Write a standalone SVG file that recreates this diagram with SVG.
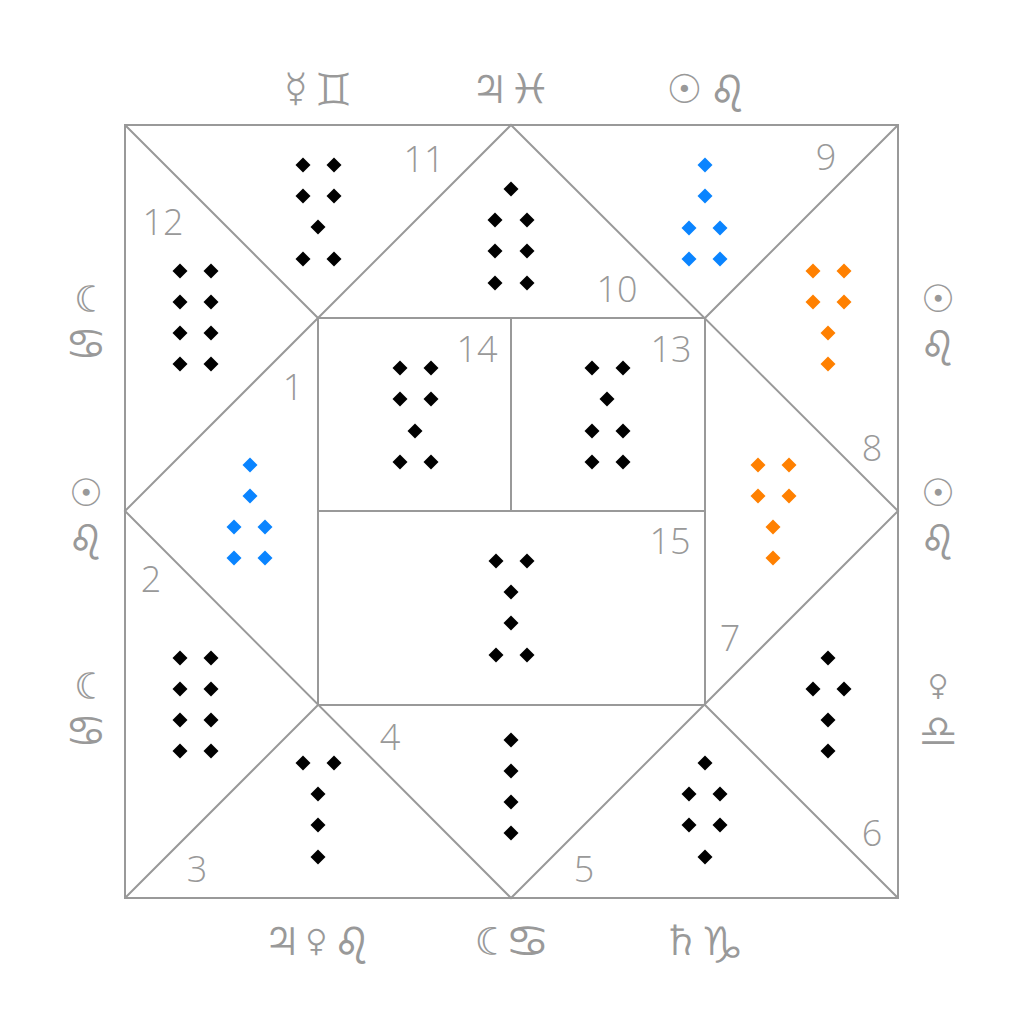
<svg xmlns="http://www.w3.org/2000/svg" width="1024" height="1024" viewBox="0 0 1024 1024">
<style>
.ln{stroke:#999;stroke-width:2;fill:none}
.num{font-family:"Open Sans","Noto Sans","DejaVu Sans",sans-serif;font-weight:300;font-size:36px;fill:#999;text-anchor:middle;dominant-baseline:central}
.sym{font-family:"Noto Sans Symbols","DejaVu Sans",sans-serif;font-size:40px;fill:#999;text-anchor:middle;dominant-baseline:central}
.side{font-size:38px}
.k{fill:#000}.b{fill:#0a84ff}.o{fill:#ff8000}
</style>
<defs>
<path id="d" d="M0,-7.5L7.5,0L0,7.5L-7.5,0Z"/>
</defs>
<rect width="1024" height="1024" fill="#fff"/>
<g id="connectors" class="ln">
<rect x="125" y="125" width="773" height="773"/>
<path d="M125,125L318,318M898,125L705,318M125,898L318,705M898,898L705,705"/>
<path d="M511,125L898,511L511,898L125,511Z"/>
<rect x="318" y="318" width="387" height="387"/>
<path d="M511,318V511M318,511H705"/>
</g>
<g id="house12" class="k"><text class="num" x="163" y="221">12</text>
<use href="#d" x="180" y="271"/><use href="#d" x="211" y="271"/><use href="#d" x="180" y="302"/><use href="#d" x="211" y="302"/><use href="#d" x="180" y="333"/><use href="#d" x="211" y="333"/><use href="#d" x="180" y="364"/><use href="#d" x="211" y="364"/></g>
<g id="house11" class="k"><text class="num" x="424" y="158">11</text>
<use href="#d" x="303" y="165"/><use href="#d" x="334" y="165"/><use href="#d" x="303" y="196"/><use href="#d" x="334" y="196"/><use href="#d" x="318" y="227"/><use href="#d" x="303" y="259"/><use href="#d" x="334" y="259"/></g>
<g id="house10" class="k"><text class="num" x="617" y="288">10</text>
<use href="#d" x="511" y="189"/><use href="#d" x="495" y="220"/><use href="#d" x="527" y="220"/><use href="#d" x="495" y="251"/><use href="#d" x="527" y="251"/><use href="#d" x="495" y="283"/><use href="#d" x="527" y="283"/></g>
<g id="house9" class="b"><text class="num" x="826" y="156">9</text>
<use href="#d" x="705" y="165"/><use href="#d" x="705" y="196"/><use href="#d" x="689" y="228"/><use href="#d" x="720" y="228"/><use href="#d" x="689" y="259"/><use href="#d" x="720" y="259"/></g>
<g id="house8" class="o"><text class="num" x="872" y="447">8</text>
<use href="#d" x="813" y="271"/><use href="#d" x="844" y="271"/><use href="#d" x="813" y="302"/><use href="#d" x="844" y="302"/><use href="#d" x="828" y="333"/><use href="#d" x="828" y="364"/></g>
<g id="house14" class="k"><text class="num" x="477" y="348">14</text>
<use href="#d" x="400" y="368"/><use href="#d" x="431" y="368"/><use href="#d" x="400" y="399"/><use href="#d" x="431" y="399"/><use href="#d" x="415" y="431"/><use href="#d" x="400" y="462"/><use href="#d" x="431" y="462"/></g>
<g id="house13" class="k"><text class="num" x="671" y="348">13</text>
<use href="#d" x="592" y="368"/><use href="#d" x="623" y="368"/><use href="#d" x="607" y="399"/><use href="#d" x="592" y="431"/><use href="#d" x="623" y="431"/><use href="#d" x="592" y="462"/><use href="#d" x="623" y="462"/></g>
<g id="house1" class="b"><text class="num" x="293" y="386">1</text>
<use href="#d" x="250" y="465"/><use href="#d" x="250" y="496"/><use href="#d" x="234" y="527"/><use href="#d" x="265" y="527"/><use href="#d" x="234" y="558"/><use href="#d" x="265" y="558"/></g>
<g id="house7" class="o"><text class="num" x="730" y="637">7</text>
<use href="#d" x="758" y="465"/><use href="#d" x="789" y="465"/><use href="#d" x="758" y="496"/><use href="#d" x="789" y="496"/><use href="#d" x="773" y="527"/><use href="#d" x="773" y="558"/></g>
<g id="house15" class="k"><text class="num" x="670" y="540">15</text>
<use href="#d" x="496" y="561"/><use href="#d" x="527" y="561"/><use href="#d" x="511" y="592"/><use href="#d" x="511" y="623"/><use href="#d" x="496" y="655"/><use href="#d" x="527" y="655"/></g>
<g id="house2" class="k"><text class="num" x="151" y="578">2</text>
<use href="#d" x="180" y="658"/><use href="#d" x="211" y="658"/><use href="#d" x="180" y="689"/><use href="#d" x="211" y="689"/><use href="#d" x="180" y="720"/><use href="#d" x="211" y="720"/><use href="#d" x="180" y="751"/><use href="#d" x="211" y="751"/></g>
<g id="house6" class="k"><text class="num" x="872" y="832">6</text>
<use href="#d" x="828" y="658"/><use href="#d" x="813" y="689"/><use href="#d" x="844" y="689"/><use href="#d" x="828" y="720"/><use href="#d" x="828" y="751"/></g>
<g id="house3" class="k"><text class="num" x="197" y="868">3</text>
<use href="#d" x="303" y="763"/><use href="#d" x="334" y="763"/><use href="#d" x="318" y="794"/><use href="#d" x="318" y="825"/><use href="#d" x="318" y="857"/></g>
<g id="house4" class="k"><text class="num" x="390" y="736">4</text>
<use href="#d" x="511" y="740"/><use href="#d" x="511" y="771"/><use href="#d" x="511" y="802"/><use href="#d" x="511" y="833"/></g>
<g id="house5" class="k"><text class="num" x="584" y="868">5</text>
<use href="#d" x="705" y="763"/><use href="#d" x="689" y="794"/><use href="#d" x="720" y="794"/><use href="#d" x="689" y="825"/><use href="#d" x="720" y="825"/><use href="#d" x="705" y="857"/></g>
<g id="signs">
<text class="sym" x="318" y="85">☿ ♊</text>
<text class="sym" x="511" y="85">♃ ♓</text>
<text class="sym" x="705" y="85">☉ ♌</text>
<text class="sym" x="318" y="937">♃ ♀ ♌</text>
<text class="sym" x="511" y="937">☾ ♋</text>
<text class="sym" x="705" y="937">♄ ♑</text>
<text class="sym side" x="86" y="295">☾</text><text class="sym side" x="86" y="340">♋</text>
<text class="sym side" x="86" y="489">☉</text><text class="sym side" x="86" y="534">♌</text>
<text class="sym side" x="86" y="682">☾</text><text class="sym side" x="86" y="727">♋</text>
<text class="sym side" x="938" y="295">☉</text><text class="sym side" x="938" y="340">♌</text>
<text class="sym side" x="938" y="489">☉</text><text class="sym side" x="938" y="534">♌</text>
<text class="sym side" x="938" y="682">♀</text><text class="sym side" x="938" y="727">♎</text>
</g>
</svg>
